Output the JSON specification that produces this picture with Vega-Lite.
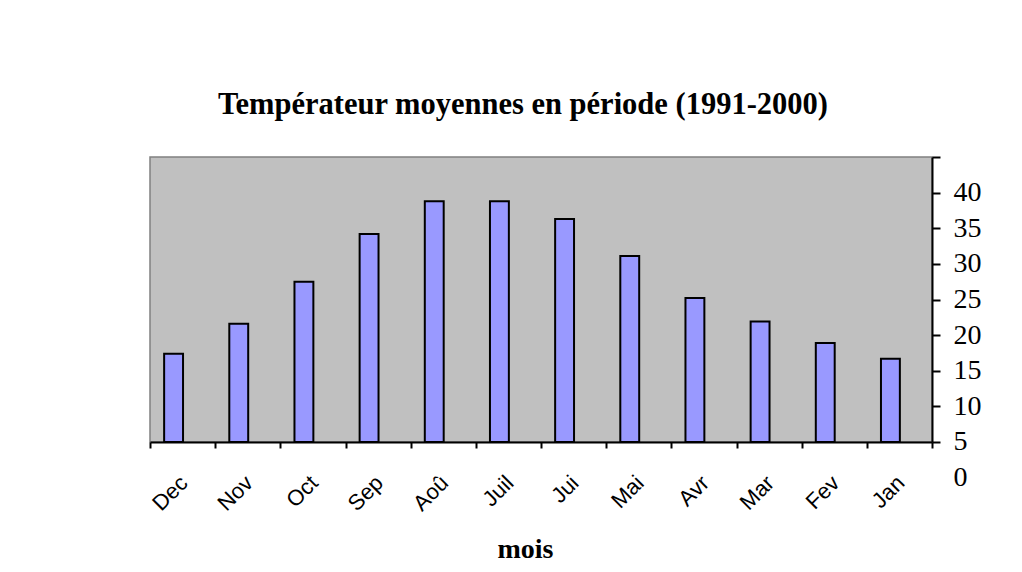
{
  "$schema": "https://vega.github.io/schema/vega-lite/v6.json",
  "width": 782,
  "height": 285,
  "autosize": {"type": "none"},
  "padding": {"left": 150, "top": 157, "right": 90, "bottom": 130},
  "background": "white",
  "title": {
    "text": "Températeur moyennes en période (1991-2000)",
    "font": "Liberation Serif",
    "fontSize": 30.5,
    "fontWeight": "bold",
    "color": "black",
    "anchor": "middle",
    "baseline": "alphabetic",
    "dx": -18,
    "offset": 12
  },
  "data": {
    "values": [
      {"mois": "Dec", "temperature": 17.4},
      {"mois": "Nov", "temperature": 21.6},
      {"mois": "Oct", "temperature": 27.5},
      {"mois": "Sep", "temperature": 34.2},
      {"mois": "Aoû", "temperature": 38.8},
      {"mois": "Juil", "temperature": 38.8},
      {"mois": "Jui", "temperature": 36.3},
      {"mois": "Mai", "temperature": 31.1},
      {"mois": "Avr", "temperature": 25.2},
      {"mois": "Mar", "temperature": 21.9},
      {"mois": "Fev", "temperature": 18.9},
      {"mois": "Jan", "temperature": 16.7}
    ]
  },
  "mark": {
    "type": "bar",
    "fill": "#9999FF",
    "stroke": "black",
    "strokeWidth": 2,
    "width": {"band": 0.29},
    "xOffset": -9
  },
  "encoding": {
    "x": {
      "field": "mois",
      "type": "nominal",
      "sort": null,
      "scale": {"paddingInner": 0, "paddingOuter": 0},
      "axis": {
        "title": "mois",
        "titleFont": "Liberation Serif",
        "titleFontSize": 28,
        "titleFontWeight": "bold",
        "titleColor": "black",
        "titleX": 375,
        "titleY": 115,
        "titleAnchor": "middle",
        "titleAlign": "center",
        "titleBaseline": "alphabetic",
        "domainColor": "black",
        "domainWidth": 2,
        "tickColor": "black",
        "tickWidth": 2,
        "tickSize": 6,
        "tickBand": "extent",
        "labelAngle": -45,
        "labelAlign": "right",
        "labelBaseline": "middle",
        "labelFont": "Liberation Sans",
        "labelFontSize": 22,
        "labelColor": "black",
        "labelPadding": 31,
        "labelOffset": 1
      }
    },
    "y": {
      "field": "temperature",
      "type": "quantitative",
      "scale": {"domain": [5, 45], "zero": false, "nice": false},
      "axis": {
        "orient": "right",
        "title": null,
        "grid": false,
        "values": [5, 10, 15, 20, 25, 30, 35, 40, 45],
        "labelExpr": "format(datum.value - 5, 'd')",
        "labelOffset": 35.6,
        "labelFlush": false,
        "labelBound": false,
        "labelOverlap": false,
        "labelFont": "Liberation Serif",
        "labelFontSize": 28,
        "labelColor": "black",
        "labelPadding": 13,
        "labelBaseline": "middle",
        "domainColor": "black",
        "domainWidth": 2,
        "tickColor": "black",
        "tickWidth": 2,
        "tickSize": 8
      }
    },
    "y2": {"datum": 5}
  },
  "config": {
    "view": {"fill": "#C0C0C0", "stroke": "#808080", "strokeWidth": 1.5}
  }
}
